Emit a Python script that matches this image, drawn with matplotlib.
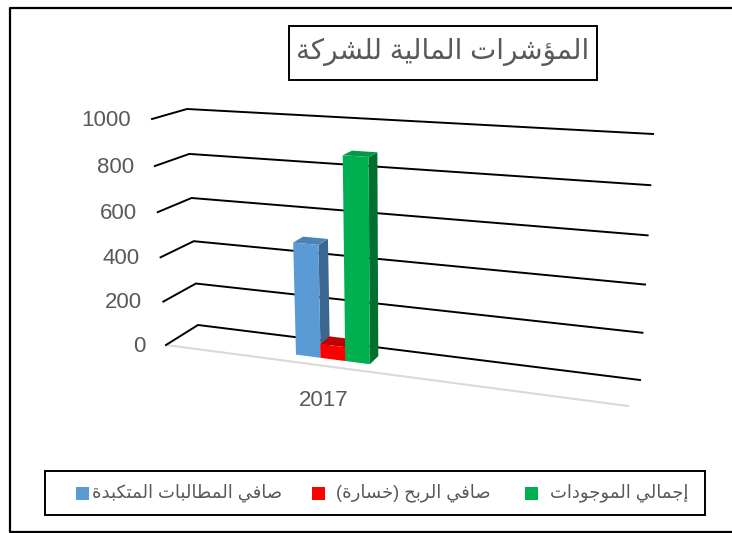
import numpy as np
import matplotlib
matplotlib.use('Agg')
import matplotlib.pyplot as plt
from matplotlib.patches import Polygon, Rectangle

# data
years = ['2017']
series_names = ['صافي المطالبات المتكبدة', 'صافي الربح (خسارة)', 'إجمالي الموجودات']
series_values = [497, 62, 882]
ticks = [0, 200, 400, 600, 800, 1000]
title = 'المؤشرات المالية للشركة'

face = ['#5B9BD5', '#FF0000', '#00B050']
top = ['#4A83B8', '#C00000', '#009A46']
side = ['#3A6690', '#B00000', '#007030']
gray = '#595959'

# arabic has to be shaped by hand, matplotlib does not do it
dual = {'ب': 0xFE8F, 'ت': 0xFE95, 'ج': 0xFE9D, 'ح': 0xFEA1, 'خ': 0xFEA5, 'س': 0xFEB1,
        'ش': 0xFEB5, 'ص': 0xFEB9, 'ط': 0xFEC1, 'ف': 0xFED1, 'ك': 0xFED9, 'ل': 0xFEDD,
        'م': 0xFEE1, 'ي': 0xFEF1}
right = {'ا': 0xFE8D, 'إ': 0xFE87, 'ؤ': 0xFE85, 'ر': 0xFEAD, 'د': 0xFEA9, 'و': 0xFEED, 'ة': 0xFE93}


def shape(s):
    out = []
    for i, c in enumerate(s):
        prev = s[i - 1] if i > 0 else ''
        nxt = s[i + 1] if i < len(s) - 1 else ''
        a = prev in dual
        b = c in dual and (nxt in dual or nxt in right)
        if c in dual:
            out.append(chr(dual[c] + (3 if a and b else 2 if b else 1 if a else 0)))
        elif c in right:
            out.append(chr(right[c] + (1 if a else 0)))
        else:
            out.append({'(': ')', ')': '('}.get(c, c))
    return ''.join(out[::-1])


# corners of the 3d box in pixels: (depth, x position, value)
FL0, FL1 = np.array([166, 345.]), np.array([152, 119.])
BL0, BL1 = np.array([198, 325.]), np.array([187, 109.])
BR0, BR1 = np.array([640, 380.]), np.array([653, 134.])
FR0, FR1 = np.array([628, 406.]), np.array([643, 148.])


def proj(t, d, v):
    f = v / 1000
    g = f + 0.05 * f * (f - 1)
    left = (1 - d) * (FL0 + (FL1 - FL0) * g) + d * (BL0 + (BL1 - BL0) * g)
    rgt = (1 - d) * (FR0 + (FR1 - FR0) * g) + d * (BR0 + (BR1 - BR0) * g)
    return (1 - t) * left + t * rgt


fig = plt.figure(figsize=(7.32, 5.33), dpi=100)
ax = fig.add_axes([0, 0, 1, 1])
ax.set_xlim(0, 732)
ax.set_ylim(533, 0)
ax.axis('off')
plt.rcParams['font.family'] = ['Liberation Sans', 'DejaVu Sans']

# outer frame, runs off the right edge
ax.plot([740, 9.5, 9.5, 740], [8, 8, 532, 532], color='black', lw=1.6, zorder=1)

# floor edge
p = [proj(0, 0, 0), proj(1, 0, 0)]
ax.plot([p[0][0], p[1][0]], [p[0][1], p[1][1]], color='#D9D9D9', lw=1.5, zorder=2)

# grid
for v in ticks:
    p = np.array([proj(0, 0, v), proj(0, 1, v), proj(1, 1, v)])
    ax.plot(p[:, 0], p[:, 1], color='black', lw=1.4, zorder=2)
    ax.text(p[0][0] - 21, p[0][1] + 1, str(v), ha='right', va='center', fontsize=16, color=gray)

# bars
t0, w, d0, d1 = 0.264, 0.054, 0.30, 0.66
for i, v in enumerate(series_values):
    a, b = t0 + i * w, t0 + (i + 1) * w
    ax.add_patch(Polygon([proj(b, d0, 0), proj(b, d1, 0), proj(b, d1, v), proj(b, d0, v)], fc=side[i], ec='none', zorder=3 + i))
    ax.add_patch(Polygon([proj(a, d0, v), proj(b, d0, v), proj(b, d1, v), proj(a, d1, v)], fc=top[i], ec='none', zorder=3 + i))
    ax.add_patch(Polygon([proj(a, d0, 0), proj(b, d0, 0), proj(b, d0, v), proj(a, d0, v)], fc=face[i], ec='none', zorder=3 + i))

ax.text(324, 400, years[0], ha='center', va='center', fontsize=16, color=gray)

# title
ax.add_patch(Rectangle((288.5, 26), 308, 54, fc='white', ec='black', lw=1.4, zorder=5))
ax.text(443, 52, shape(title), ha='center', va='center', fontsize=20, color=gray, zorder=6)

# legend
ax.add_patch(Rectangle((45, 471), 660, 44, fc='white', ec='black', lw=1.4, zorder=5))
leg_box = [76, 312, 525]
leg_text = [187, 413, 619]
for i, name in enumerate(series_names):
    ax.add_patch(Rectangle((leg_box[i], 487), 13, 13, fc=face[i], ec='none', zorder=6))
    ax.text(leg_text[i], 493, shape(name), ha='center', va='center', fontsize=13, color=gray, zorder=6)

fig.savefig('out.png', dpi=100)
